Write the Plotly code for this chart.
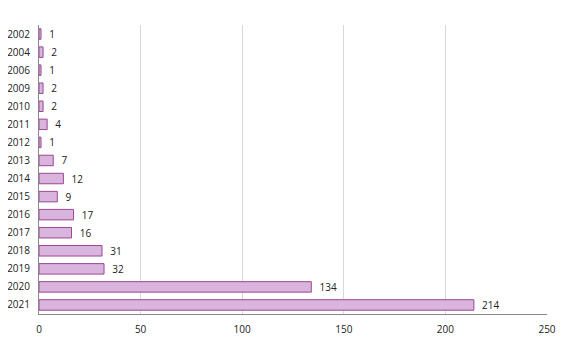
import plotly.graph_objects as go

years = ["2002", "2004", "2006", "2009", "2010", "2011", "2012", "2013", "2014",
         "2015", "2016", "2017", "2018", "2019", "2020", "2021"]
counts = [1, 2, 1, 2, 2, 4, 1, 7, 12, 9, 17, 16, 31, 32, 134, 214]
x_ticks = [0, 50, 100, 150, 200, 250]

FONT = "Open Sans"

fig = go.Figure(go.Bar(
    x=counts, y=years, orientation="h",
    marker=dict(color="#D9B5DE", line=dict(color="#9C4594", width=1)),
    text=[f"  {c}" for c in counts], textposition="outside",
    constraintext="none",
    textfont=dict(family=FONT, size=10, color="#222222"),
    cliponaxis=False,
))
# page body has an 8px margin, so the figure is drawn from (8, 8)
fig.update_layout(
    width=559, height=332,
    margin=dict(l=31, r=20, t=17, b=26, autoexpand=False),
    paper_bgcolor="white", plot_bgcolor="white",
    bargap=0.42,
    showlegend=False,
    font=dict(family=FONT, size=10, color="#222222"),
)
fig.update_xaxes(range=[0, 250], tickvals=x_ticks, showgrid=True, gridcolor="#D9D9D9",
                 gridwidth=1, showline=True, linecolor="#888888", zeroline=False,
                 ticks="", ticklen=0, automargin=False, ticklabelstandoff=6)
fig.update_yaxes(autorange="reversed", showline=True, linecolor="#888888",
                 ticks="", ticklabelstandoff=6, automargin=False)
fig.write_html("out.html")
